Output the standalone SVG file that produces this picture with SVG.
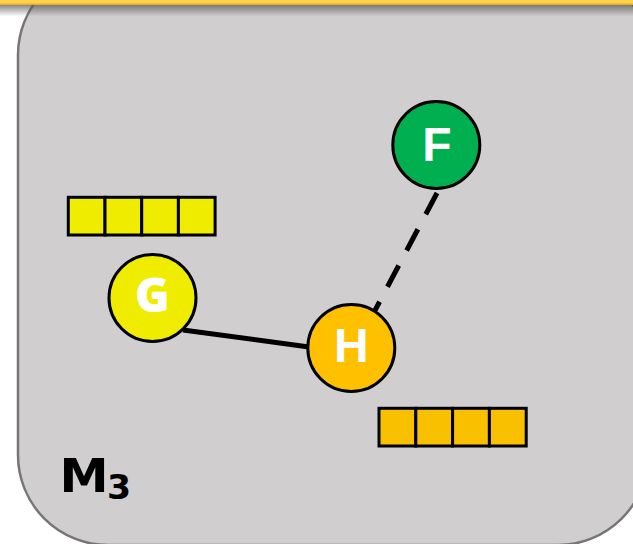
<svg xmlns="http://www.w3.org/2000/svg" width="633" height="544" viewBox="0 0 633 544">
  <style>
    .panel { fill: #D0CECF; stroke: #767676; stroke-width: 2.5; }
    .node { stroke: #000; stroke-width: 3; }
    .label { font-family: "Liberation Sans", Arial, sans-serif; font-weight: bold; font-size: 48px; fill: #fff; text-anchor: middle; }
    .cell { stroke: #000; stroke-width: 3; }
    .edge { stroke: #000; stroke-width: 5; fill: none; }
    .mlabel { font-family: "DejaVu Sans", Verdana, sans-serif; font-weight: bold; fill: #000; }
  </style>
  <defs>
    <linearGradient id="barShadow" x1="0" y1="0" x2="0" y2="1">
      <stop offset="0" stop-color="#5a5a5a" stop-opacity="0.75"/>
      <stop offset="1" stop-color="#5a5a5a" stop-opacity="0"/>
    </linearGradient>
  </defs>

  <rect width="633" height="544" fill="#fff"/>

  <!-- machine panel -->
  <rect class="panel" x="18" y="-35" width="630" height="580" rx="90" ry="90"/>

  <!-- header strip with its drop shadow -->
  <rect x="0" y="4.5" width="633" height="12" fill="url(#barShadow)"/>
  <rect x="0" y="0" width="633" height="4.5" fill="#FFD24C"/>
  <rect x="0" y="3.5" width="633" height="1.5" fill="#E8AE2A"/>

  <!-- connectors -->
  <g id="edges">
    <line class="edge" x1="183" y1="330" x2="309" y2="347"/>
    <line class="edge" x1="437" y1="193" x2="371" y2="318" stroke-dasharray="24 17"/>
  </g>

  <!-- buffers -->
  <g id="buffer-G">
    <rect class="cell" x="68.3" y="197.3" width="36.7" height="37.7" fill="#EFEC00"/>
    <rect class="cell" x="105" y="197.3" width="36.7" height="37.7" fill="#EFEC00"/>
    <rect class="cell" x="141.7" y="197.3" width="36.7" height="37.7" fill="#EFEC00"/>
    <rect class="cell" x="178.4" y="197.3" width="36.7" height="37.7" fill="#EFEC00"/>
  </g>
  <g id="buffer-H">
    <rect class="cell" x="379" y="408.3" width="36.8" height="37.7" fill="#F9C000"/>
    <rect class="cell" x="415.8" y="408.3" width="36.8" height="37.7" fill="#F9C000"/>
    <rect class="cell" x="452.6" y="408.3" width="36.8" height="37.7" fill="#F9C000"/>
    <rect class="cell" x="489.4" y="408.3" width="36.8" height="37.7" fill="#F9C000"/>
  </g>

  <!-- nodes -->
  <g id="node-F">
    <circle class="node" cx="436.3" cy="145" r="43.5" fill="#00B050"/>
    <text class="label" x="437" y="160.7">F</text>
  </g>
  <g id="node-G">
    <circle class="node" cx="152.5" cy="298" r="43.5" fill="#EFEC00"/>
    <text class="label" x="152.5" y="312" style="font-family: 'Open Sans', 'Liberation Sans', sans-serif; font-size: 47px; font-weight: 800;">G</text>
  </g>
  <g id="node-H">
    <circle class="node" cx="351.3" cy="348" r="43.5" fill="#FFC000"/>
    <text class="label" x="351.3" y="361.7">H</text>
  </g>

  <!-- machine label -->
  <g id="label-M3">
    <text class="mlabel" transform="translate(59.6,491.5) scale(1.05,1)" font-size="47">M</text>
    <text class="mlabel" transform="translate(107,498.5) scale(1.05,1)" font-size="33">3</text>
  </g>
</svg>
